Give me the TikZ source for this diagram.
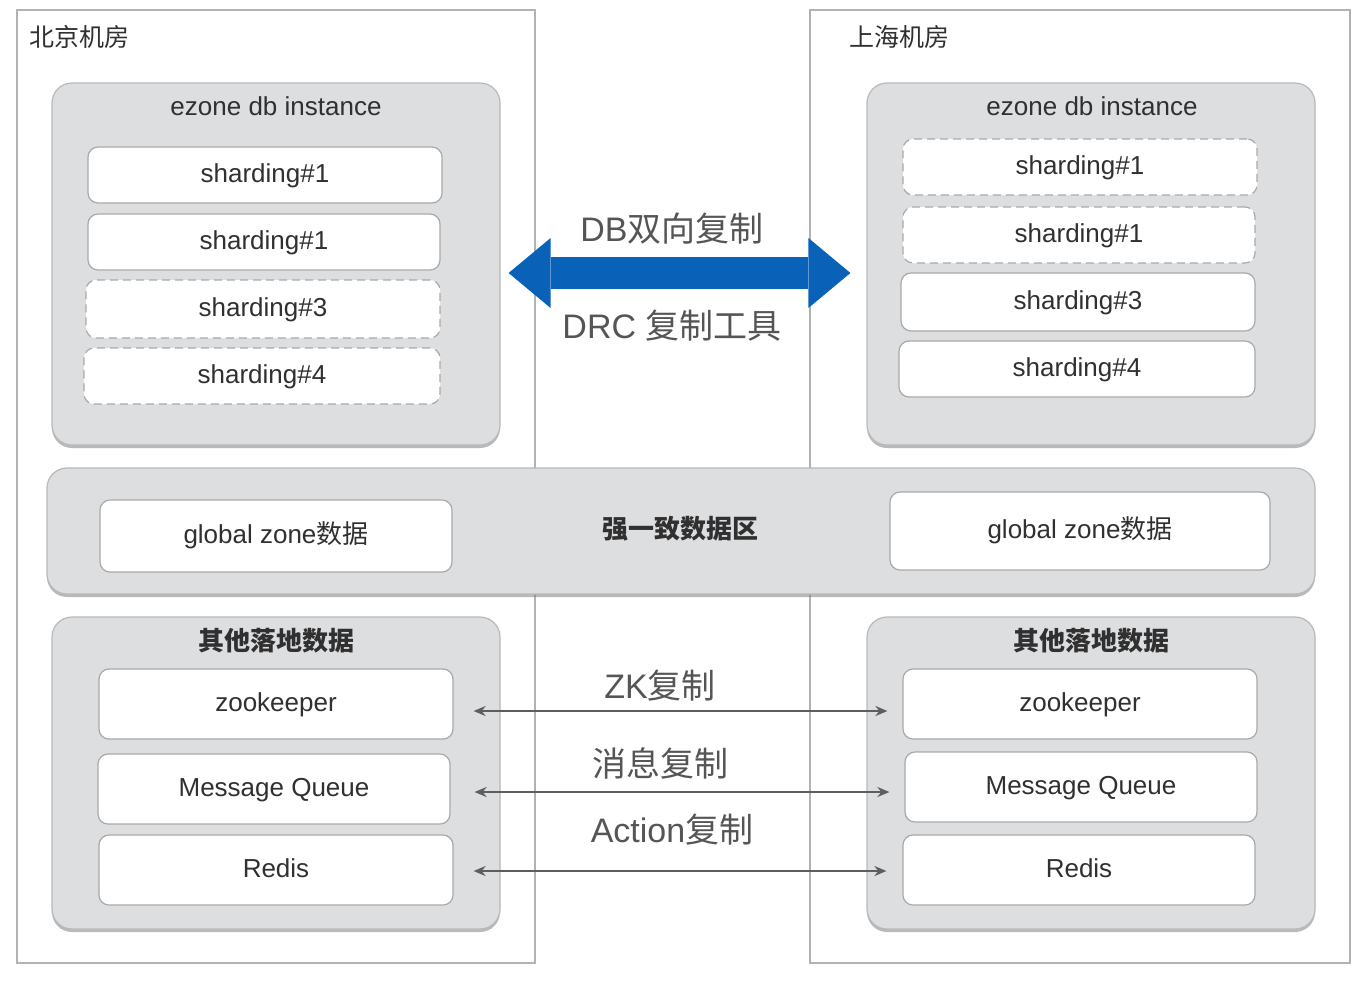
\documentclass[tikz,border=0pt]{standalone}
\usepackage{fontspec}
\setmainfont{Liberation Sans}
\newfontfamily\cjk{Noto Sans CJK SC}
\usetikzlibrary{arrows.meta}
\usetikzlibrary{shadows}
\definecolor{roomline}{HTML}{B2B2B2}
\definecolor{grpfill}{HTML}{DDDEE0}
\definecolor{grpline}{HTML}{B8B9BB}
\definecolor{itemline}{HTML}{A9A9A9}
\definecolor{txt}{HTML}{303030}
\definecolor{lbl}{HTML}{555555}
\definecolor{dbblue}{HTML}{0A62B8}
\definecolor{arrgray}{HTML}{5E5E5E}
\tikzset{
  room/.style={draw=roomline, line width=0.7pt, fill=white},
  roomtitle/.style={anchor=west, text=txt, font=\cjk\fontsize{12.5}{14}\selectfont},
  group/.style={draw=grpline, fill=grpfill, line width=0.6pt, rounded corners=10pt,
    drop shadow={shadow xshift=0pt, shadow yshift=-1.5pt, fill=black!50, opacity=0.55}},
  grptitle/.style={text=txt, font=\fontsize{13}{15}\selectfont},
  item/.style={draw=itemline, fill=white, line width=0.6pt, rounded corners=5pt,
    text=txt, font=\fontsize{13}{15}\selectfont, inner sep=0pt,
    text height=0.74em, text depth=0.04em},
  itemdash/.style={item, dash pattern=on 4pt off 2.5pt},
  midlabel/.style={text=lbl, font=\fontsize{17}{19}\selectfont},
  dbarrow/.style={draw=dbblue, line width=16pt,
    {Triangle[width=35pt,length=21pt,line width=0pt]}-{Triangle[width=35pt,length=21pt,line width=0pt]}},
  conn/.style={draw=arrgray, line width=1pt,
    {Stealth[length=6pt,width=5pt]}-{Stealth[length=6pt,width=5pt]}}
}
\begin{document}
\begin{tikzpicture}[x=0.5pt, y=-0.5pt]
    \useasboundingbox (0,0) rectangle (1368,982);

    % rooms
    \draw[room] (17,10) rectangle (535,963);
    \draw[room] (810,10) rectangle (1350,963);
    \node[roomtitle] (bjt) at (22,37) {北京机房};
    \node[roomtitle] (sht) at (842,37) {上海机房};

    % db instances
    \node[group, minimum width=224pt, minimum height=181pt] (dbL) at (276,264) {};
    \node[grptitle] (dbLt) at (276,106) {ezone db instance};
    \node[item, minimum width=177pt, minimum height=28pt] (sL1) at (265,175) {sharding\#1};
    \node[item, minimum width=176pt, minimum height=28pt] (sL2) at (264,242) {sharding\#1};
    \node[itemdash, minimum width=177pt, minimum height=29pt] (sL3) at (263,309) {sharding\#3};
    \node[itemdash, minimum width=178pt, minimum height=28pt] (sL4) at (262,376) {sharding\#4};

    \node[group, minimum width=224pt, minimum height=181pt] (dbR) at (1091,264) {};
    \node[grptitle] (dbRt) at (1092,106) {ezone db instance};
    \node[itemdash, minimum width=177pt, minimum height=28pt] (sR1) at (1080,167) {sharding\#1};
    \node[itemdash, minimum width=176pt, minimum height=28pt] (sR2) at (1079,235) {sharding\#1};
    \node[item, minimum width=177pt, minimum height=29pt] (sR3) at (1078,302) {sharding\#3};
    \node[item, minimum width=178pt, minimum height=28pt] (sR4) at (1077,369) {sharding\#4};

    % db replication
    \draw[dbarrow, shorten <=4pt, shorten >=8pt] (dbL.east |- 0,273) -- (dbR.west |- 0,273);
    \node[midlabel] (dbt) at (672,229) {DB{\cjk 双向复制}};
    \node[midlabel] (drct) at (672,326) {DRC {\cjk 复制工具}};

    % global zone
    \node[group, minimum width=634pt, minimum height=63pt] (glob) at (681,531) {};
    \node[item, minimum width=176pt, minimum height=36pt] (gL) at (276,536) {global zone{\cjk 数据}};
    \node[item, minimum width=190pt, minimum height=39pt] (gR) at (1080,531) {global zone{\cjk 数据}};
    \node[grptitle, font=\cjk\bfseries\fontsize{13}{15}\selectfont] (globt) at (680,529) {强一致数据区};

    % other data
    \node[group, minimum width=224pt, minimum height=156pt] (oL) at (276,773) {};
    \node[grptitle, font=\cjk\bfseries\fontsize{13}{15}\selectfont] (oLt) at (276,641) {其他落地数据};
    \node[item, minimum width=177pt, minimum height=35pt] (zkL) at (276,704) {zookeeper};
    \node[item, minimum width=176pt, minimum height=35pt] (mqL) at (274,789) {Message Queue};
    \node[item, minimum width=177pt, minimum height=35pt] (rdL) at (276,870) {Redis};

    \node[group, minimum width=224pt, minimum height=156pt] (oR) at (1091,773) {};
    \node[grptitle, font=\cjk\bfseries\fontsize{13}{15}\selectfont] (oRt) at (1091,641) {其他落地数据};
    \node[item, minimum width=177pt, minimum height=35pt] (zkR) at (1080,704) {zookeeper};
    \node[item, minimum width=176pt, minimum height=35pt] (mqR) at (1081,787) {Message Queue};
    \node[item, minimum width=176pt, minimum height=35pt] (rdR) at (1079,870) {Redis};

    % replication arrows
    \draw[conn, shorten <=10pt, shorten >=7.5pt] (zkL.east |- 0,711) -- (zkR.west |- 0,711);
    \draw[conn, shorten <=12pt, shorten >=7.5pt] (mqL.east |- 0,792) -- (mqR.west |- 0,792);
    \draw[conn, shorten <=10pt, shorten >=8pt] (rdL.east |- 0,871) -- (rdR.west |- 0,871);
    \node[midlabel] (zkt) at (660,686) {ZK{\cjk 复制}};
    \node[midlabel, font=\cjk\fontsize{17}{19}\selectfont] (mqt) at (660,763) {消息复制};
    \node[midlabel] (act) at (672,830) {Action{\cjk 复制}};

\end{tikzpicture}
\end{document}
